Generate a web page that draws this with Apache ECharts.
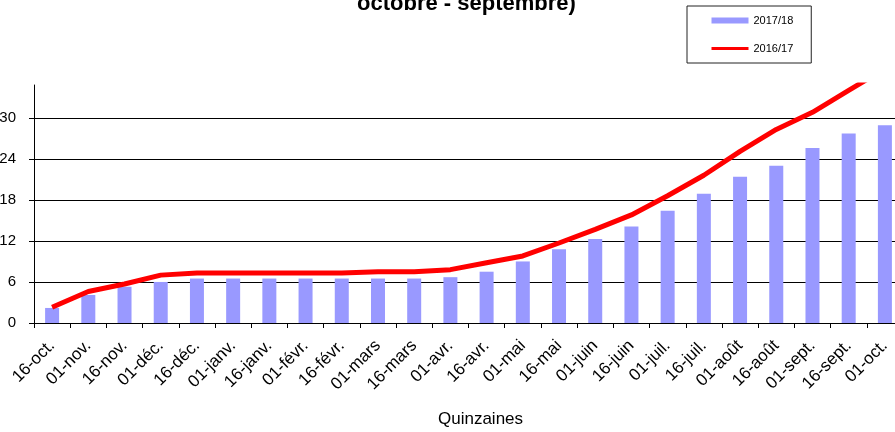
<!DOCTYPE html>
<html>
<head>
<meta charset="utf-8">
<script src="https://cdn.jsdelivr.net/npm/echarts@6/dist/echarts.min.js"></script>
<style>
  html, body { margin: 0; padding: 0; background: #fff; }
  #chart { width: 895px; height: 432px; }
</style>
</head>
<body>
<div id="chart"></div>
<script>
// quinzaines, octobre -> septembre
var categories = ['16-oct.', '01-nov.', '16-nov.', '01-déc.', '16-déc.', '01-janv.', '16-janv.', '01-févr.',
  '16-févr.', '01-mars', '16-mars', '01-avr.', '16-avr.', '01-mai', '16-mai', '01-juin', '16-juin',
  '01-juil.', '16-juil.', '01-août', '16-août', '01-sept.', '16-sept.', '01-oct.'];

// 2017/18 (barres)
var values1718 = [2.2, 4.1, 5.3, 6.0, 6.5, 6.5, 6.5, 6.5, 6.5, 6.5, 6.5, 6.7, 7.5, 9.0, 10.8, 12.3,
  14.1, 16.4, 18.9, 21.4, 23.0, 25.6, 27.7, 28.9];

// 2016/17 (courbe)
var values1617 = [2.3, 4.6, 5.7, 7.0, 7.3, 7.3, 7.3, 7.3, 7.3, 7.5, 7.5, 7.8, 8.8, 9.8, 11.7, 13.7,
  15.8, 18.6, 21.6, 25.1, 28.3, 30.8, 34.0, 37.2];

var seriesNames = ['2017/18', '2016/17'];
var titleText = 'octobre - septembre)';
var xName = 'Quinzaines';

var font = '"Liberation Sans", Arial, sans-serif';

var myChart = echarts.init(document.getElementById('chart'));
var option = {
  animation: false,
  title: {
    text: titleText,
    left: 357,
    top: -7,
    padding: 0,
    textStyle: { fontSize: 22, fontWeight: 'bold', color: '#000', fontFamily: font }
  },
  legend: {
    orient: 'vertical',
    left: 687,
    top: 6,
    padding: [9, 18, 9, 23],
    itemGap: 17,
    itemWidth: 37,
    itemHeight: 6,
    borderColor: '#222',
    borderWidth: 1,
    textStyle: { fontSize: 11, color: '#000', fontFamily: font },
    lineStyle: { width: 3 },
    data: [
      { name: seriesNames[0], icon: 'rect' },
      { name: seriesNames[1], itemStyle: { opacity: 0 } }
    ]
  },
  grid: {
    left: 34,
    top: 85,
    right: -8,
    bottom: 109,
    containLabel: false,
    outerBoundsMode: 'none'
  },
  xAxis: {
    type: 'category',
    data: categories,
    axisLine: { lineStyle: { color: '#000', width: 1 } },
    axisTick: { show: true, length: 5, lineStyle: { color: '#000' } },
    axisLabel: {
      rotate: 45,
      margin: 20,
      interval: 0,
      fontSize: 17,
      color: '#000',
      fontFamily: font
    }
  },
  yAxis: {
    type: 'value',
    min: 0,
    max: 34.8,
    interval: 6,
    axisLine: { show: true, lineStyle: { color: '#000', width: 1 } },
    axisTick: { show: true, length: 5, lineStyle: { color: '#000' } },
    axisLabel: {
      showMaxLabel: false,
      margin: 18,
      fontSize: 15,
      color: '#000',
      fontFamily: font
    },
    splitLine: { show: true, showMaxLine: false, lineStyle: { color: '#000', width: 1 } }
  },
  graphic: [
    {
      type: 'text',
      left: 438,
      top: 411,
      style: { text: xName, font: '17px ' + font, fill: '#000' }
    }
  ],
  series: [
    {
      name: seriesNames[0],
      type: 'bar',
      data: values1718,
      barWidth: 14,
      itemStyle: { color: '#9999ff' }
    },
    {
      name: seriesNames[1],
      type: 'line',
      data: values1617,
      symbol: 'none',
      clip: true,
      lineStyle: { color: '#ff0000', width: 5 },
      itemStyle: { color: '#ff0000' }
    }
  ]
};
myChart.setOption(option, true);
</script>
</body>
</html>
